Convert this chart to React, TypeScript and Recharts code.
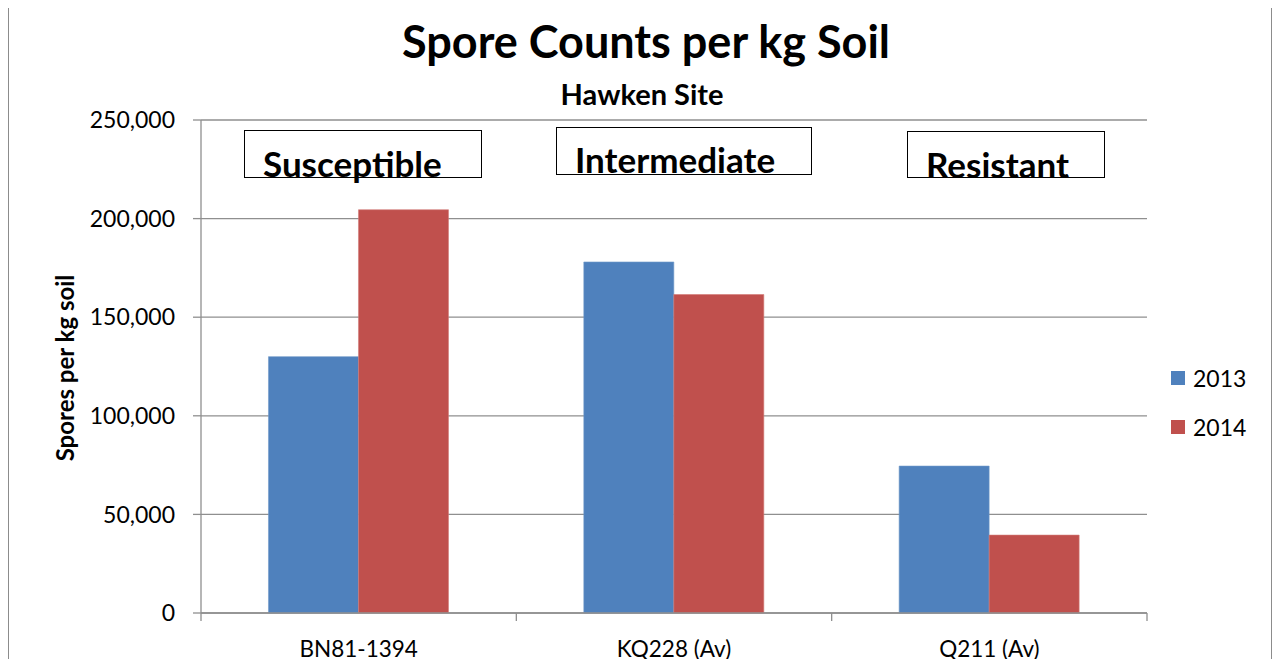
import React from "react";
import { Bar, BarChart, CartesianGrid, Legend, XAxis, YAxis } from "recharts";

const categories = ["BN81-1394", "KQ228 (Av)", "Q211 (Av)"];
const spores2013 = [130000, 178000, 74500];
const spores2014 = [204500, 161500, 39500];
const yTicks = [0, 50000, 100000, 150000, 200000, 250000];
const groupLabels = ["Susceptible", "Intermediate", "Resistant"];

const data = categories.map((name, i) => ({
  name,
  y2013: spores2013[i],
  y2014: spores2014[i],
}));

const FONT = "Lato, 'Open Sans', sans-serif";
const W = 1280;
const H = 667;
const PLOT_LEFT = 201;
const PLOT_RIGHT = 1147;
const PLOT_BOTTOM = 613;
const BAND = (PLOT_RIGHT - PLOT_LEFT) / categories.length;
const GRID = "#8f8f8f";

function CategoryTick(props: any) {
  const { x, payload, index } = props;
  const left = x - BAND / 2;
  return (
    <g>
      <line x1={left} x2={left} y1={PLOT_BOTTOM} y2={PLOT_BOTTOM + 8} stroke={GRID} strokeWidth={1.3} />
      {index === categories.length - 1 && (
        <line x1={x + BAND / 2} x2={x + BAND / 2} y1={PLOT_BOTTOM} y2={PLOT_BOTTOM + 8} stroke={GRID} strokeWidth={1.3} />
      )}
      <text x={x} y={PLOT_BOTTOM + 44} textAnchor="middle" fontSize={22.5} fill="#000" fontFamily={FONT}>
        {payload.value}
      </text>
    </g>
  );
}

function LegendBox(props: any) {
  const { payload } = props;
  return (
    <div style={{ fontFamily: FONT, fontSize: 23, color: "#000" }}>
      {payload.map((p: any) => (
        <div key={p.value} style={{ display: "flex", alignItems: "center", height: 24, marginBottom: 24.5 }}>
          <span style={{ width: 14, height: 14, background: p.color, marginRight: 8 }} />
          {p.value}
        </div>
      ))}
    </div>
  );
}

const boxes = [
  { left: 244, top: 130, width: 238, height: 48, pad: 11 },
  { left: 556, top: 127, width: 256, height: 48, pad: 10 },
  { left: 907, top: 131, width: 198, height: 47, pad: 11 },
];

export default function App() {
  return (
    <div style={{ position: "relative", width: W, height: H, margin: -8, background: "#fff", overflow: "hidden" }}>
      <BarChart
        width={W}
        height={H}
        data={data}
        margin={{ top: 120, right: W - PLOT_RIGHT, bottom: 24, left: PLOT_LEFT - 80 }}
        barCategoryGap="21.4%"
        barGap={0}
      >
        <CartesianGrid vertical={false} stroke={GRID} strokeWidth={1.3} />
        <XAxis
          dataKey="name"
          height={30}
          tickLine={false}
          axisLine={{ stroke: GRID, strokeWidth: 1.3 }}
          tick={<CategoryTick />}
          interval={0}
        />
        <YAxis
          width={80}
          domain={[0, 250000]}
          ticks={yTicks}
          interval={0}
          tickSize={8}
          tickMargin={18}
          tickLine={{ stroke: GRID, strokeWidth: 1.3 }}
          axisLine={{ stroke: GRID, strokeWidth: 1.3 }}
          tick={{ fontSize: 23, fill: "#000", fontFamily: FONT }}
          tickFormatter={(v: number) => v.toLocaleString("en-US")}
        />
        <Legend
          layout="horizontal"
          verticalAlign="middle"
          align="center"
          content={<LegendBox />}
          wrapperStyle={{ left: 1171, top: 366, width: 100 }}
        />
        <Bar dataKey="y2013" name="2013" fill="#4F81BD" stroke="#6f98c8" strokeWidth={0.6} isAnimationActive={false} />
        <Bar dataKey="y2014" name="2014" fill="#C0504D" stroke="#d27a77" strokeWidth={0.6} isAnimationActive={false} />
      </BarChart>
      <div
        style={{
          position: "absolute",
          left: 0,
          width: 1292,
          top: 14,
          textAlign: "center",
          fontFamily: FONT,
          fontWeight: 700,
          fontSize: 45,
          lineHeight: "54px",
        }}
      >
        Spore Counts per kg Soil
      </div>
      <div
        style={{
          position: "absolute",
          left: 0,
          width: 1284,
          top: 76,
          textAlign: "center",
          fontFamily: FONT,
          fontWeight: 700,
          fontSize: 29,
          lineHeight: "35px",
        }}
      >
        Hawken Site
      </div>
      {boxes.map((b, i) => (
        <div
          key={groupLabels[i]}
          style={{
            position: "absolute",
            left: b.left,
            top: b.top,
            width: b.width,
            height: b.height,
            border: "1.5px solid #000",
            boxSizing: "border-box",
            fontFamily: FONT,
            fontWeight: 700,
            fontSize: 35,
            lineHeight: "42px",
            paddingTop: b.pad,
            paddingLeft: 18,
            whiteSpace: "nowrap",
          }}
        >
          {groupLabels[i]}
        </div>
      ))}
      <div
        style={{
          position: "absolute",
          left: 64,
          top: 368,
          transform: "translate(-50%, -50%) rotate(-90deg)",
          whiteSpace: "nowrap",
          fontFamily: FONT,
          fontWeight: 700,
          fontSize: 24,
        }}
      >
        Spores per kg soil
      </div>
      <div
        style={{
          position: "absolute",
          left: 8,
          top: 5,
          width: 1262,
          height: 720,
          border: "1.5px solid #8c8c8c",
          pointerEvents: "none",
        }}
      />
    </div>
  );
}
